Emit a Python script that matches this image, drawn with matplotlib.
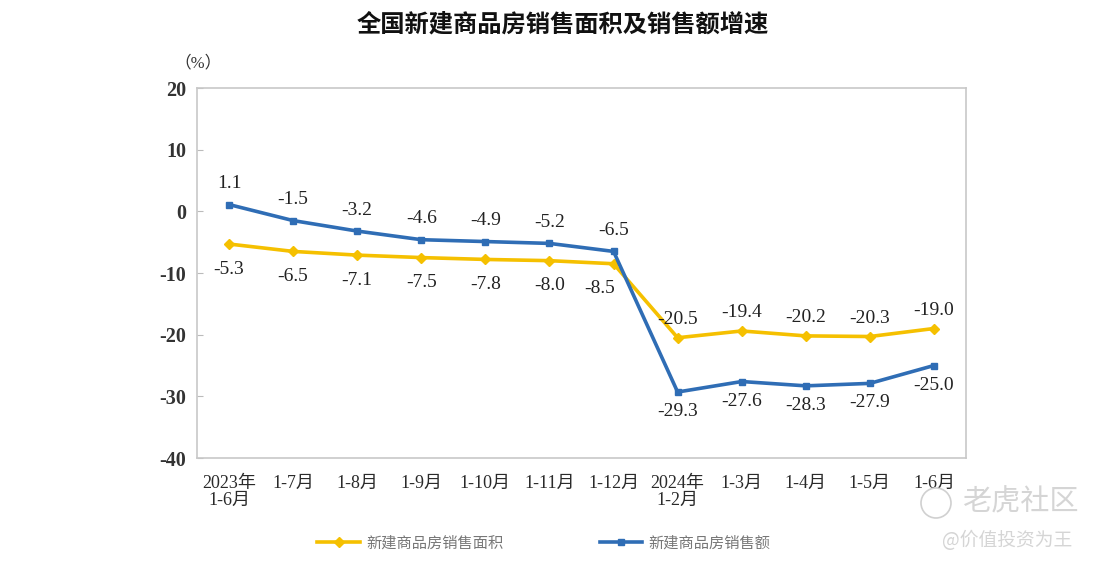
import matplotlib.pyplot as plt
from matplotlib.patches import Ellipse
import numpy as np

plt.rcParams['font.family'] = ['Liberation Serif', 'Noto Sans CJK SC']

months = ['2023年\n1-6月', '1-7月', '1-8月', '1-9月', '1-10月', '1-11月', '1-12月',
          '2024年\n1-2月', '1-3月', '1-4月', '1-5月', '1-6月']
area = [-5.3, -6.5, -7.1, -7.5, -7.8, -8.0, -8.5, -20.5, -19.4, -20.2, -20.3, -19.0]
sales = [1.1, -1.5, -3.2, -4.6, -4.9, -5.2, -6.5, -29.3, -27.6, -28.3, -27.9, -25.0]

yellow = '#F5C000'
blue = '#2F6DB5'
x = np.arange(len(months))

fig = plt.figure(figsize=(10.95, 5.65), dpi=100)
ax = fig.add_axes([197 / 1095, 1 - 458 / 565, (966 - 197) / 1095, (458 - 88) / 565])

ax.plot(x, area, color=yellow, lw=2.6, marker='D', ms=5, label='新建商品房销售面积')
ax.plot(x, sales, color=blue, lw=2.6, marker='s', ms=5, label='新建商品房销售额')

# yellow labels below before the drop, above after; blue the other way round
for i in range(len(x)):
    if i < 7:
        ay, av = -12, 'top'
        sy, sv = 9, 'bottom'
    else:
        ay, av = 7, 'bottom'
        sy, sv = -8, 'top'
    ax_off = -10 if i == 6 else 0  # -8.5 sits left of the crossing
    ax.annotate(f'{area[i]:.1f}', (x[i], area[i]), xytext=(ax_off, ay), textcoords='offset points',
                ha='center', va=av, fontsize=14, color='#222222')
    ax.annotate(f'{sales[i]:.1f}', (x[i], sales[i]), xytext=(0, sy), textcoords='offset points',
                ha='center', va=sv, fontsize=14, color='#222222')

ax.set_xlim(-0.5, 11.5)
ax.set_ylim(-40, 20)
ax.set_yticks(range(-40, 21, 10))
ax.set_yticklabels([str(v) for v in range(-40, 21, 10)], fontsize=14.5, fontweight='bold', color='#333333')
ax.set_xticks(x)
ax.set_xticklabels(months, fontsize=13, color='#2A2A2A', linespacing=1.05)
ax.tick_params(axis='x', length=0, pad=12)
ax.tick_params(axis='y', direction='in', length=4, color='#BBBBBB', pad=8)
for s in ax.spines.values():
    s.set_color('#C8C8C8')
    s.set_linewidth(1.2)

fig.text(563 / 1095, 1 - 25 / 565, '全国新建商品房销售面积及销售额增速', ha='center', va='center',
         fontsize=17.5, fontweight='bold', family=['Noto Sans CJK SC'], color='#111111')
fig.text(198 / 1095, 1 - 63 / 565, '（%）', ha='center', va='center', fontsize=12, color='#333333')

ax.legend(loc='center', bbox_to_anchor=(0.451, 1 - (543 - 88) / 370), ncol=2, frameon=False,
          labelcolor='#777777', columnspacing=6.3, handlelength=2.8, handletextpad=0.4,
          prop={'family': ['Noto Sans CJK SC'], 'size': 11})

# watermark
fig.patches.append(Ellipse((936 / 1095, 1 - 503 / 565), 30 / 1095, 30 / 565, transform=fig.transFigure,
                           fill=False, ec='#D0D0D0', lw=1.2))
fig.text(1020 / 1095, 1 - 502 / 565, '老虎社区', ha='center', va='center', fontsize=21,
         color='#D5D5D5', family=['Noto Sans CJK SC'])
fig.text(1007 / 1095, 1 - 540 / 565, '@价值投资为王', ha='center', va='center', fontsize=13.5,
         color='#D5D5D5', family=['Noto Sans CJK SC'])

fig.savefig('out.png', dpi=100)
